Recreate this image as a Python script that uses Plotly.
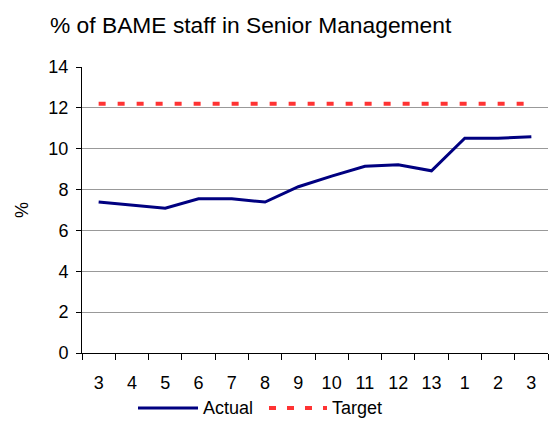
import plotly.graph_objects as go

labels = ["3", "4", "5", "6", "7", "8", "9", "10", "11", "12", "13", "1", "2", "3"]
actual = [7.39, 7.24, 7.09, 7.55, 7.55, 7.39, 8.14, 8.66, 9.14, 9.22, 8.92, 10.51, 10.51, 10.59]
target = [12.2] * len(labels)
idx = list(range(len(labels)))

FONT = "Liberation Sans, Arial, sans-serif"
W, H = 549, 421
L, R, T, B = 82, 1, 67, 68
PW, PH = W - L - R, H - T - B


def px(x):
    return (x - L) / PW


def py(y):
    return (H - B - y) / PH


fig = go.Figure()
fig.add_trace(go.Scatter(x=idx, y=actual, mode="lines", name="Actual",
                         line=dict(color="#000080", width=3)))
fig.add_trace(go.Scatter(x=idx, y=target, mode="lines", name="Target",
                         line=dict(color="#FF3333", width=4, dash="7px,12px")))

# custom legend (Excel style, long line samples)
leg_y = py(408)
shapes = [
    dict(type="line", xref="paper", yref="paper", x0=px(138), x1=px(198), y0=leg_y, y1=leg_y,
         line=dict(color="#000080", width=3)),
]
for x0, x1 in [(269, 276), (287, 294), (305, 312), (323, 327)]:
    shapes.append(dict(type="line", xref="paper", yref="paper", x0=px(x0), x1=px(x1),
                       y0=leg_y, y1=leg_y, line=dict(color="#FF3333", width=4)))
annotations = [
    dict(text="Actual", xref="paper", yref="paper", x=px(201), y=leg_y, xanchor="left",
         yanchor="middle", showarrow=False, font=dict(size=18)),
    dict(text="Target", xref="paper", yref="paper", x=px(330), y=leg_y, xanchor="left",
         yanchor="middle", showarrow=False, font=dict(size=18)),
]

fig.update_layout(
    width=W, height=H,
    margin=dict(l=L, r=R, t=T, b=B, autoexpand=False),
    paper_bgcolor="white", plot_bgcolor="white",
    font=dict(family=FONT, size=18, color="black"),
    title=dict(text="% of BAME staff in Senior Management", xref="container", x=50/W,
               xanchor="left", yref="container", y=1-25/H, yanchor="middle",
               font=dict(family=FONT, size=22.8, color="black"), automargin=False),
    showlegend=False,
    shapes=shapes,
    annotations=annotations,
)
fig.update_xaxes(range=[-0.5, len(labels) - 0.5], tickmode="array", tickvals=idx, ticktext=labels,
                 ticks="", showgrid=False, zeroline=False, showline=True, linecolor="black",
                 linewidth=1, ticklabelstandoff=13, automargin=False,
                 minor=dict(tickmode="linear", tick0=-0.5, dtick=1, ticks="outside",
                            ticklen=6, tickcolor="black", tickwidth=1, showgrid=False))
fig.update_yaxes(range=[0, 14], dtick=2, ticks="outside", ticklen=5, tickcolor="black",
                 showgrid=True, gridcolor="#999999", gridwidth=1, zeroline=False,
                 showline=True, linecolor="black", linewidth=1, ticklabelstandoff=4,
                 automargin=False,
                 title=dict(text="%", standoff=15, font=dict(size=18)))

fig.write_html("out.html", config={"displayModeBar": False},
               post_script="document.body.style.margin='0';")
